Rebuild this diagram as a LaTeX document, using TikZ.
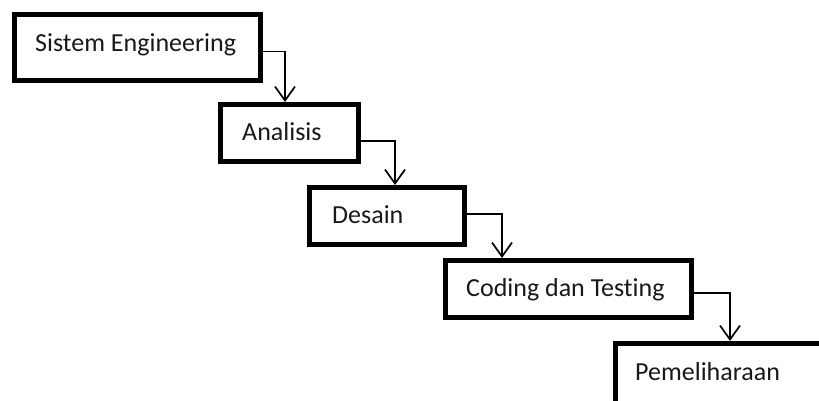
\documentclass[tikz,border=0pt]{standalone}
\usepackage{fontspec}
\setmainfont{Carlito}[Ligatures={NoCommon,NoContextual}]
\usetikzlibrary{arrows.meta}
\tikzset{
  box/.style={draw=black, line width=5pt, rectangle, inner sep=0pt, fill=white},
  lbl/.style={anchor=base west, inner sep=0pt, font=\fontsize{26}{31}\selectfont, text=black!90},
  conn/.style={draw=black, line width=1.7pt, -{Straight Barb[length=14pt,width=20pt]}}
}
\begin{document}
\begin{tikzpicture}[x=1pt,y=-1pt]
\useasboundingbox (0,0) rectangle (819,401);
\clip (0,0) rectangle (819,401);
\fill[white] (0,0) rectangle (819,401);
% boxes
\node[box, minimum width=246pt, minimum height=66pt] (b1) at (137.5,47.5) {};
\node[box, minimum width=138pt, minimum height=57pt] (b2) at (289.5,133) {};
\node[box, minimum width=155pt, minimum height=57pt] (b3) at (387,216) {};
\node[box, minimum width=246pt, minimum height=57pt] (b4) at (568.5,289) {};
\node[box, minimum width=224.5pt, minimum height=76.5pt] (b5) at (727.75,381.75) {};
% labels
\node[lbl] (t1) at (35,52) {Sistem Engineering};
\node[lbl] (t2) at (242,141) {Analisis};
\node[lbl] (t3) at (332,223) {Desain};
\node[lbl] (t4) at (466,296) {Coding dan Tes{}ting};
\node[lbl] (t5) at (635,380) {Pemeliharaan};
% bends
\coordinate (k1) at (285,51.5);
\coordinate (k2) at (395,141);
\coordinate (k3) at (502,214);
\coordinate (k4) at (730,293);
% connectors
\draw[conn] (b1.east |- k1) -- (k1) -- (k1 |- b2.north);
\draw[conn] (b2.east |- k2) -- (k2) -- (k2 |- b3.north);
\draw[conn] (b3.east |- k3) -- (k3) -- (k3 |- b4.north);
\draw[conn] (b4.east |- k4) -- (k4) -- (k4 |- b5.north);
\end{tikzpicture}
\end{document}
